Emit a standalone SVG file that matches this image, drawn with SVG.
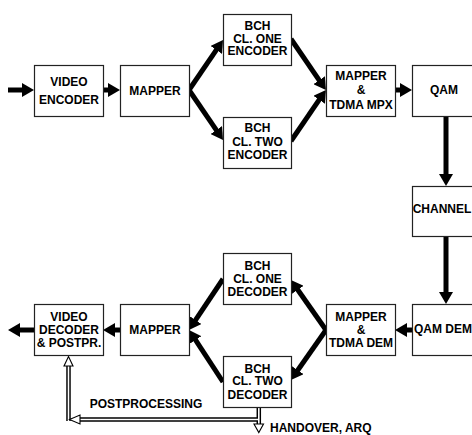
<svg xmlns="http://www.w3.org/2000/svg" width="472" height="435" viewBox="0 0 472 435">
<defs>
<style>
.box{fill:#fff;stroke:#222;stroke-width:1.2}
.t{font-family:"Liberation Sans",Arial,sans-serif;font-weight:bold;font-size:12px;fill:#000;text-anchor:middle}
.a{fill:none;stroke:#000;stroke-width:5}
.hw{fill:none;stroke:#000;stroke-width:4.5}
.hi{fill:none;stroke:#fff;stroke-width:1.6}
.hh{fill:#fff;stroke:#000;stroke-width:1.1}
</style>
<marker id="ah" markerUnits="userSpaceOnUse" markerWidth="13" markerHeight="14" refX="2" refY="7" orient="auto">
<path d="M0,0 L12,7 L0,14 z" fill="#000"/>
</marker>
</defs>
<rect width="472" height="435" fill="#fff"/>
<g id="connectors">
<path class="a" marker-end="url(#ah)" d="M8,90 H24"/>
<path class="a" marker-end="url(#ah)" d="M103,90 H110"/>
<path class="a" marker-end="url(#ah)" d="M189,90 L217.4,48.3"/>
<path class="a" marker-end="url(#ah)" d="M189,90 L217.4,131.7"/>
<path class="a" marker-end="url(#ah)" d="M291,39 L320.3,81.8"/>
<path class="a" marker-end="url(#ah)" d="M291,141 L320.3,98.2"/>
<path class="a" marker-end="url(#ah)" d="M395,90 H402"/>
<path class="a" marker-end="url(#ah)" d="M446,116 V176"/>
<path class="a" marker-end="url(#ah)" d="M446,236 V294"/>
<path class="a" marker-end="url(#ah)" d="M412,330 H405"/>
<path class="a" marker-end="url(#ah)" d="M326,330 L296.7,288.2"/>
<path class="a" marker-end="url(#ah)" d="M326,330 L296.7,371.8"/>
<path class="a" marker-end="url(#ah)" d="M223,279 L194.5,321.7"/>
<path class="a" marker-end="url(#ah)" d="M223,382 L194.5,338.3"/>
<path class="a" marker-end="url(#ah)" d="M120,330 H113"/>
<path class="a" marker-end="url(#ah)" d="M34,330 H18"/>
<path class="hw" d="M258.8,407 V425 M258.8,419.5 H79 M68.5,421 V365"/>
<path class="hi" d="M258.8,407 V425 M258.8,419.5 H79 M68.5,421 V365"/>
<polygon class="hh" points="254,424 263.5,424 258.8,432.5"/>
<polygon class="hh" points="80,415 80,424 69.5,419.5"/>
<polygon class="hh" points="64,366 73,366 68.5,356.5"/>
</g>
<g id="video-encoder"><rect class="box" x="34.5" y="65.5" width="69" height="51"/><text class="t" x="69" y="86">VIDEO</text><text class="t" x="69" y="104">ENCODER</text></g>
<g id="mapper-tx"><rect class="box" x="120.5" y="65.5" width="69" height="51"/><text class="t" x="155" y="95">MAPPER</text></g>
<g id="bch1-enc"><rect class="box" x="223.5" y="14.5" width="68" height="51"/><text class="t" x="257.5" y="30">BCH</text><text class="t" x="257.5" y="42.5">CL. ONE</text><text class="t" x="257.5" y="55">ENCODER</text></g>
<g id="bch2-enc"><rect class="box" x="223.5" y="117.5" width="68" height="51"/><text class="t" x="257.5" y="132">BCH</text><text class="t" x="257.5" y="145.5">CL. TWO</text><text class="t" x="257.5" y="159">ENCODER</text></g>
<g id="mux"><rect class="box" x="326.5" y="65.5" width="69" height="51"/><text class="t" x="361" y="79.5">MAPPER</text><text class="t" x="361" y="93.5">&amp;</text><text class="t" x="361" y="108.5">TDMA MPX</text></g>
<g id="qam"><rect class="box" x="412.5" y="65.5" width="69" height="51"/><text class="t" x="444" y="94">QAM</text></g>
<g id="channel"><rect class="box" x="412.5" y="186.5" width="69" height="50"/><text class="t" x="442" y="213">CHANNEL</text></g>
<g id="qam-dem"><rect class="box" x="412.5" y="304.5" width="69" height="51"/><text class="t" x="414" y="333" style="text-anchor:start">QAM DEM</text></g>
<g id="demux"><rect class="box" x="326.5" y="304.5" width="69" height="51"/><text class="t" x="361" y="320.5">MAPPER</text><text class="t" x="361" y="333.5">&amp;</text><text class="t" x="361" y="346.5">TDMA DEM</text></g>
<g id="bch1-dec"><rect class="box" x="223.5" y="253.5" width="68" height="51"/><text class="t" x="257.5" y="270">BCH</text><text class="t" x="257.5" y="282.5">CL. ONE</text><text class="t" x="257.5" y="295.5">DECODER</text></g>
<g id="bch2-dec"><rect class="box" x="223.5" y="356.5" width="68" height="51"/><text class="t" x="257.5" y="372.5">BCH</text><text class="t" x="257.5" y="385">CL. TWO</text><text class="t" x="257.5" y="398.5">DECODER</text></g>
<g id="mapper-rx"><rect class="box" x="120.5" y="304.5" width="69" height="51"/><text class="t" x="155" y="334">MAPPER</text></g>
<g id="video-decoder"><rect class="box" x="34.5" y="304.5" width="69" height="51"/><text class="t" x="69" y="321">VIDEO</text><text class="t" x="69" y="333.5">DECODER</text><text class="t" x="69" y="346.5">&amp; POSTPR.</text></g>
<g id="labels"><text class="t" x="146" y="407.5">POSTPROCESSING</text><text class="t" x="270" y="432" style="text-anchor:start">HANDOVER, ARQ</text></g>
</svg>
